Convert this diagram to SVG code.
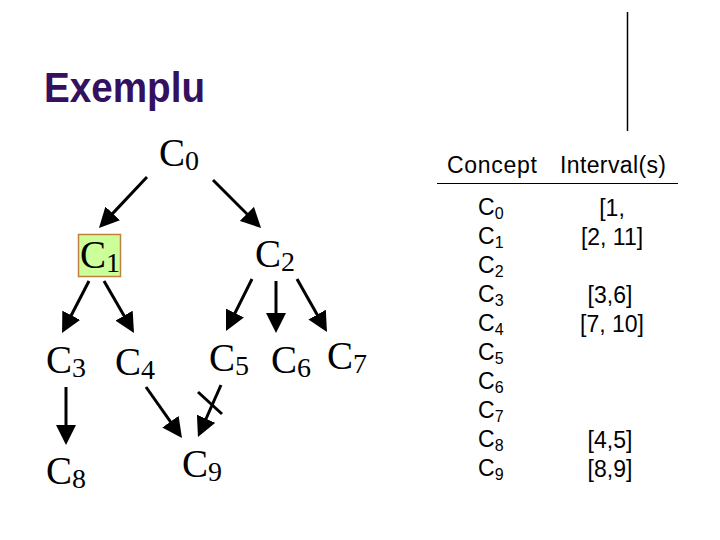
<svg xmlns="http://www.w3.org/2000/svg" width="720" height="540" viewBox="0 0 720 540">
<style>
.title{font-family:"Liberation Sans",Arial,sans-serif;font-weight:bold;font-size:42px;fill:#33115e}
.node{font-family:"Liberation Serif","Times New Roman",serif;font-size:39px;fill:#000}
.node .sub{font-size:28px}
.tab{font-family:"Liberation Sans",Arial,sans-serif;font-size:23px;fill:#000}
.tab .sub{font-size:16px}
.edge{stroke:#000;stroke-width:3;fill:none;marker-end:url(#arr)}
</style>
<defs>
<marker id="arr" viewBox="0 0 20 20" markerWidth="20" markerHeight="20" markerUnits="userSpaceOnUse" refX="14" refY="10" orient="auto">
<path d="M0,0 L20,10 L0,20 z" fill="#000"/>
</marker>
</defs>
<rect width="720" height="540" fill="#fff"/>
<text class="title" x="44" y="102" textLength="161" lengthAdjust="spacingAndGlyphs">Exemplu</text>
<line x1="627.5" y1="12" x2="627.5" y2="131" stroke="#000" stroke-width="1.5"/>

<g id="connectors">
<line class="edge" x1="147" y1="177" x2="103.1" y2="223.6"/>
<line class="edge" x1="213" y1="180" x2="256.8" y2="223.8"/>
<line class="edge" x1="89" y1="281" x2="64.8" y2="327.7"/>
<line class="edge" x1="104" y1="281" x2="131" y2="327.8"/>
<line class="edge" x1="252" y1="279" x2="228.7" y2="325.6"/>
<line class="edge" x1="276" y1="281" x2="276" y2="327"/>
<line class="edge" x1="297" y1="279" x2="324" y2="326.8"/>
<line class="edge" x1="66" y1="387" x2="66" y2="439"/>
<line class="edge" x1="146" y1="387" x2="178.5" y2="433.1"/>
<line class="edge" x1="221" y1="385" x2="200.4" y2="431.5"/>
<line x1="198" y1="392" x2="222" y2="414" stroke="#000" stroke-width="3"/>
</g>

<g id="C0"><text class="node" x="159" y="166">C<tspan class="sub" dy="4">0</tspan></text></g>
<g id="C1"><rect x="78.5" y="234.5" width="42" height="42" fill="#ccff99" stroke="#c0803f" stroke-width="1.5"/><text class="node" x="80" y="268">C<tspan class="sub" dy="4">1</tspan></text></g>
<g id="C2"><text class="node" x="255" y="267">C<tspan class="sub" dy="4">2</tspan></text></g>
<g id="C3"><text class="node" x="46" y="373">C<tspan class="sub" dy="4">3</tspan></text></g>
<g id="C4"><text class="node" x="115" y="375">C<tspan class="sub" dy="4">4</tspan></text></g>
<g id="C5"><text class="node" x="209" y="371">C<tspan class="sub" dy="4">5</tspan></text></g>
<g id="C6"><text class="node" x="271" y="373">C<tspan class="sub" dy="4">6</tspan></text></g>
<g id="C7"><text class="node" x="327" y="369">C<tspan class="sub" dy="4">7</tspan></text></g>
<g id="C8"><text class="node" x="46" y="484">C<tspan class="sub" dy="4">8</tspan></text></g>
<g id="C9"><text class="node" x="182" y="477">C<tspan class="sub" dy="4">9</tspan></text></g>

<g id="table">
<text class="tab" x="447" y="173" textLength="90">Concept</text>
<text class="tab" x="560" y="173" textLength="106">Interval(s)</text>
<line x1="437" y1="183.5" x2="678" y2="183.5" stroke="#000" stroke-width="1"/>
<g text-anchor="start">
<text class="tab" x="478" y="215">C<tspan class="sub" dy="4">0</tspan></text>
<text class="tab" x="478" y="244">C<tspan class="sub" dy="4">1</tspan></text>
<text class="tab" x="478" y="273">C<tspan class="sub" dy="4">2</tspan></text>
<text class="tab" x="478" y="302">C<tspan class="sub" dy="4">3</tspan></text>
<text class="tab" x="478" y="331">C<tspan class="sub" dy="4">4</tspan></text>
<text class="tab" x="478" y="360">C<tspan class="sub" dy="4">5</tspan></text>
<text class="tab" x="478" y="389">C<tspan class="sub" dy="4">6</tspan></text>
<text class="tab" x="478" y="418">C<tspan class="sub" dy="4">7</tspan></text>
<text class="tab" x="478" y="447">C<tspan class="sub" dy="4">8</tspan></text>
<text class="tab" x="478" y="476">C<tspan class="sub" dy="4">9</tspan></text>
</g>
<g text-anchor="middle">
<text class="tab" x="612" y="216">[1,</text>
<text class="tab" x="612" y="245">[2, 11]</text>
<text class="tab" x="610" y="303">[3,6]</text>
<text class="tab" x="612" y="332">[7, 10]</text>
<text class="tab" x="610" y="448">[4,5]</text>
<text class="tab" x="610" y="477">[8,9]</text>
</g>
</g>
</svg>
